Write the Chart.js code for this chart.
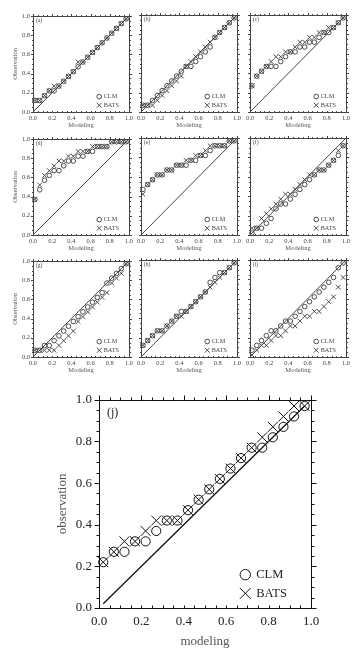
<!DOCTYPE html>
<html>
<head>
<meta charset="utf-8">
<script src="https://cdn.jsdelivr.net/npm/chart.js@4.4.1/dist/chart.umd.min.js"></script>
<style>
  html, body { margin: 0; padding: 0; background: #fff; }
  body { width: 362px; height: 658px; position: relative; overflow: hidden; }
  .panel { position: absolute; }
  .panel canvas { display: block; }
</style>
</head>
<body>
<script>
// modelled frequency bins (x) shared by every panel
const modelX = [0.02, 0.07, 0.12, 0.17, 0.22, 0.27, 0.32, 0.37, 0.42, 0.47,
                0.52, 0.57, 0.62, 0.67, 0.72, 0.77, 0.82, 0.87, 0.92, 0.97];

const clmA  = [0.12, 0.12, 0.17, 0.22, 0.22, 0.27, 0.32, 0.37, 0.42, 0.47, 0.52, 0.57, 0.62, 0.67, 0.72, 0.77, 0.82, 0.87, 0.92, 0.97];
const batsA = [0.12, 0.12, 0.17, 0.22, 0.27, 0.27, 0.32, 0.37, 0.42, 0.52, 0.52, 0.57, 0.62, 0.67, 0.72, 0.77, 0.82, 0.87, 0.92, 0.97];
const clmB  = [0.07, 0.07, 0.12, 0.17, 0.22, 0.27, 0.32, 0.37, 0.42, 0.47, 0.47, 0.52, 0.57, 0.62, 0.67, 0.77, 0.82, 0.87, 0.92, 0.97];
const batsB = [0.07, 0.07, 0.07, 0.12, 0.17, 0.22, 0.27, 0.32, 0.37, 0.47, 0.52, 0.57, 0.62, 0.67, 0.72, 0.77, 0.82, 0.87, 0.92, 0.97];
const clmC  = [0.27, 0.37, 0.42, 0.47, 0.47, 0.47, 0.52, 0.57, 0.62, 0.62, 0.67, 0.67, 0.72, 0.72, 0.77, 0.82, 0.82, 0.87, 0.92, 0.97];
const batsC = [0.27, 0.37, 0.42, 0.47, 0.52, 0.57, 0.57, 0.62, 0.62, 0.67, 0.72, 0.72, 0.77, 0.77, 0.82, 0.82, 0.87, 0.87, 0.92, 0.97];
const clmD  = [0.37, 0.47, 0.57, 0.62, 0.67, 0.67, 0.72, 0.77, 0.77, 0.82, 0.82, 0.87, 0.87, 0.92, 0.92, 0.92, 0.97, 0.97, 0.97, 0.97];
const batsD = [0.37, 0.52, 0.62, 0.67, 0.72, 0.77, 0.77, 0.82, 0.82, 0.87, 0.87, 0.87, 0.92, 0.92, 0.92, 0.92, 0.97, 0.97, 0.97, 0.97];
const clmE  = [0.47, 0.52, 0.57, 0.62, 0.62, 0.67, 0.67, 0.72, 0.72, 0.72, 0.77, 0.77, 0.82, 0.82, 0.87, 0.92, 0.92, 0.92, 0.97, 0.97];
const batsE = [0.42, 0.52, 0.57, 0.62, 0.62, 0.67, 0.67, 0.72, 0.72, 0.77, 0.77, 0.82, 0.82, 0.87, 0.92, 0.92, 0.92, 0.92, 0.97, 0.97];
const clmF  = [0.02, 0.07, 0.07, 0.12, 0.17, 0.27, 0.32, 0.32, 0.37, 0.42, 0.47, 0.52, 0.57, 0.62, 0.67, 0.67, 0.72, 0.77, 0.82, 0.92];
const batsF = [0.07, 0.07, 0.17, 0.22, 0.27, 0.32, 0.37, 0.42, 0.42, 0.47, 0.52, 0.57, 0.62, 0.62, 0.67, 0.67, 0.72, 0.77, 0.87, 0.92];
const clmG  = [0.07, 0.07, 0.12, 0.12, 0.17, 0.22, 0.27, 0.32, 0.37, 0.42, 0.47, 0.52, 0.57, 0.62, 0.67, 0.77, 0.82, 0.87, 0.92, 0.97];
const batsG = [0.07, 0.07, 0.07, 0.07, 0.07, 0.12, 0.17, 0.22, 0.27, 0.37, 0.42, 0.47, 0.52, 0.57, 0.62, 0.67, 0.77, 0.82, 0.87, 0.97];
const clmH  = [0.12, 0.17, 0.22, 0.27, 0.27, 0.32, 0.37, 0.42, 0.47, 0.47, 0.52, 0.57, 0.62, 0.67, 0.77, 0.82, 0.87, 0.87, 0.92, 0.97];
const batsH = [0.12, 0.17, 0.22, 0.27, 0.27, 0.32, 0.37, 0.42, 0.42, 0.47, 0.52, 0.57, 0.62, 0.67, 0.72, 0.77, 0.82, 0.87, 0.92, 0.97];
const clmI  = [0.07, 0.12, 0.17, 0.22, 0.27, 0.27, 0.32, 0.37, 0.37, 0.42, 0.47, 0.52, 0.57, 0.62, 0.67, 0.72, 0.77, 0.82, 0.92, 0.97];
const batsI = [0.02, 0.07, 0.12, 0.12, 0.17, 0.22, 0.22, 0.27, 0.32, 0.32, 0.37, 0.42, 0.42, 0.47, 0.47, 0.52, 0.57, 0.62, 0.72, 0.82];
const clmJ  = [0.22, 0.27, 0.27, 0.32, 0.32, 0.37, 0.42, 0.42, 0.47, 0.52, 0.57, 0.62, 0.67, 0.72, 0.77, 0.77, 0.82, 0.87, 0.92, 0.97];
const batsJ = [0.22, 0.27, 0.32, 0.32, 0.37, 0.42, 0.42, 0.42, 0.47, 0.52, 0.57, 0.62, 0.67, 0.72, 0.77, 0.82, 0.87, 0.92, 0.97, 0.97];

const smallClm  = [clmA, clmB, clmC, clmD, clmE, clmF, clmG, clmH, clmI];
const smallBats = [batsA, batsB, batsC, batsD, batsE, batsF, batsG, batsH, batsI];
const panelNames = ["(a)", "(b)", "(c)", "(d)", "(e)", "(f)", "(g)", "(h)", "(i)", "(j)"];
const seriesNames = ["CLM", "BATS"];
const tickValues = [0, 0.2, 0.4, 0.6, 0.8, 1.0];
const diagSmall = [0, 1];
const diagBig = [0.02, 0.97];

// frame, outward ticks every 0.05, panel letter and in-plot legend
const panelDecor = {
  id: "panelDecor",
  afterDatasetsDraw(chart, args, o) {
    const { ctx, chartArea: a, scales } = chart;
    const x = scales.x, y = scales.y;
    ctx.save();
    ctx.strokeStyle = o.color;
    ctx.lineWidth = o.lineWidth;
    const L = Math.round(a.left) + 0.5, R = Math.round(a.right) + 0.5;
    const T = Math.round(a.top) + 0.5, B = Math.round(a.bottom) + 0.5;
    ctx.strokeRect(L, T, R - L, B - T);
    ctx.beginPath();
    for (let i = 0; i <= 20; i++) {
      const v = i / 20;
      const len = i % 4 === 0 ? o.major : o.minor;
      const px = Math.round(x.getPixelForValue(v)) + 0.5;
      const py = Math.round(y.getPixelForValue(v)) + 0.5;
      ctx.moveTo(px, T); ctx.lineTo(px, T - len);
      ctx.moveTo(px, B); ctx.lineTo(px, B - o.minor);
      ctx.moveTo(L, py); ctx.lineTo(L - len, py);
      ctx.moveTo(R, py); ctx.lineTo(R + len, py);
    }
    ctx.stroke();

    ctx.fillStyle = o.textColor;
    ctx.textBaseline = "middle";
    ctx.textAlign = "left";
    ctx.font = o.labelSize + "px 'Liberation Serif', serif";
    ctx.fillText(o.label, a.left + o.labelDx, a.top + o.labelDy);

    const w = a.right - a.left, h = a.bottom - a.top;
    const lx = a.left + w * 0.69;
    const ly1 = a.top + h * 0.84, ly2 = a.top + h * 0.93;
    ctx.strokeStyle = o.markColor;
    ctx.lineWidth = o.markWidth;
    ctx.beginPath();
    ctx.arc(lx, ly1, o.legR, 0, Math.PI * 2);
    ctx.stroke();
    const c = o.legR * 1.05;
    ctx.beginPath();
    ctx.moveTo(lx - c, ly2 - c); ctx.lineTo(lx + c, ly2 + c);
    ctx.moveTo(lx + c, ly2 - c); ctx.lineTo(lx - c, ly2 + c);
    ctx.stroke();
    ctx.font = o.legendSize + "px 'Liberation Serif', serif";
    ctx.fillText(seriesNames[0], lx + o.legGap, ly1);
    ctx.fillText(seriesNames[1], lx + o.legGap, ly2);
    ctx.restore();
  }
};

function makePanel(p) {
  const div = document.createElement("div");
  div.className = "panel";
  div.style.left = (p.left - p.L) + "px";
  div.style.top = (p.top - p.T) + "px";
  const cv = document.createElement("canvas");
  cv.width = p.L + p.W + p.R;
  cv.height = p.T + p.H + p.B;
  div.appendChild(cv);
  document.body.appendChild(div);

  const font = { family: "'Liberation Serif', serif", size: p.font };
  const titleFont = { family: "'Liberation Serif', serif", size: p.titleFont };

  new Chart(cv, {
    type: "scatter",
    data: {
      datasets: [
        {
          type: "line",
          data: p.diag.map(v => ({ x: v, y: v })),
          borderColor: p.lineColor,
          borderWidth: p.diagWidth,
          pointRadius: 0,
          clip: false,
          order: 3
        },
        {
          label: seriesNames[0],
          data: modelX.map((v, i) => ({ x: v, y: p.clm[i] })),
          pointStyle: "circle",
          pointRadius: p.r,
          pointBorderWidth: p.markWidth,
          borderColor: p.markColor,
          backgroundColor: "rgba(0,0,0,0)",
          clip: false,
          order: 2
        },
        {
          label: seriesNames[1],
          data: modelX.map((v, i) => ({ x: v, y: p.bats[i] })),
          pointStyle: "crossRot",
          pointRadius: p.crossR,
          pointBorderWidth: p.markWidth,
          borderColor: p.markColor,
          backgroundColor: p.markColor,
          clip: false,
          order: 1
        }
      ]
    },
    options: {
      responsive: false,
      animation: false,
      devicePixelRatio: 1,
      events: [],
      layout: { padding: { left: 0, top: p.T, right: p.R, bottom: 0 } },
      plugins: {
        legend: { display: false },
        tooltip: { enabled: false },
        panelDecor: {
          label: p.label, labelSize: p.labelSize, labelDx: p.labelDx, labelDy: p.labelDy,
          color: p.lineColor, textColor: p.textColor, lineWidth: p.frameWidth,
          major: p.major, minor: p.minor, legR: p.legR, legGap: p.legGap,
          legendSize: p.legendSize, markWidth: p.markWidth, markColor: p.markColor
        }
      },
      scales: {
        x: {
          type: "linear", min: 0, max: 1,
          afterBuildTicks: s => { s.ticks = tickValues.map(v => ({ value: v })); },
          afterFit: s => { s.height = p.B; },
          grid: { display: false, drawTicks: false },
          border: { display: false },
          ticks: {
            font, color: p.textColor, padding: p.xPad, maxRotation: 0, autoSkip: false,
            callback: v => Number(v).toFixed(1)
          },
          title: {
            display: true, text: p.xTitle, font: titleFont, color: p.titleColor,
            padding: { top: 0, bottom: p.xTitlePad }
          }
        },
        y: {
          type: "linear", min: 0, max: 1,
          afterBuildTicks: s => { s.ticks = tickValues.map(v => ({ value: v })); },
          afterFit: s => { s.width = p.L; },
          grid: { display: false, drawTicks: false },
          border: { display: false },
          ticks: {
            display: p.showY, font, color: p.textColor, padding: p.yPad,
            callback: v => Number(v).toFixed(1)
          },
          title: {
            display: p.showY, text: p.yTitle, font: titleFont, color: p.titleColor,
            padding: { top: p.yTitlePad, bottom: 0 }
          }
        }
      }
    },
    plugins: [panelDecor]
  });
}

const colLeft = [33, 141, 250];
const rowTop = [15, 138, 260];

for (let k = 0; k < 9; k++) {
  const col = k % 3, row = Math.floor(k / 3);
  makePanel({
    left: colLeft[col], top: rowTop[row], W: 96, H: 97,
    L: col === 0 ? 33 : 8, T: 6, R: 8, B: 20,
    clm: smallClm[k], bats: smallBats[k], diag: diagSmall,
    label: panelNames[k], labelSize: 5.5, labelDx: 3, labelDy: 5,
    showY: col === 0, xTitle: "Modeling", yTitle: "Observation",
    font: 6.5, titleFont: 6.5, legendSize: 6.2,
    xPad: 2, yPad: 3, xTitlePad: 2.6, yTitlePad: 11,
    lineColor: "#444", markColor: "#3a3a3a", textColor: "#444", titleColor: "#555",
    frameWidth: 1, diagWidth: 1, markWidth: 0.9,
    r: 2.3, crossR: 3.3, legR: 2.3, legGap: 4.5,
    major: 2.5, minor: 1.5
  });
}

makePanel({
  left: 99, top: 397, W: 212, H: 211,
  L: 59, T: 12, R: 22, B: 46,
  clm: clmJ, bats: batsJ, diag: diagBig,
  label: panelNames[9], labelSize: 12, labelDx: 8, labelDy: 13,
  showY: true, xTitle: "modeling", yTitle: "observation",
  font: 13, titleFont: 13, legendSize: 12.5,
  xPad: 6, yPad: 7, xTitlePad: 5, yTitlePad: 15,
  lineColor: "#111", markColor: "#111", textColor: "#222", titleColor: "#555",
  frameWidth: 1, diagWidth: 1.3, markWidth: 1,
  r: 4.6, crossR: 7, legR: 5.2, legGap: 11,
  major: 5, minor: 3
});
</script>
</body>
</html>
